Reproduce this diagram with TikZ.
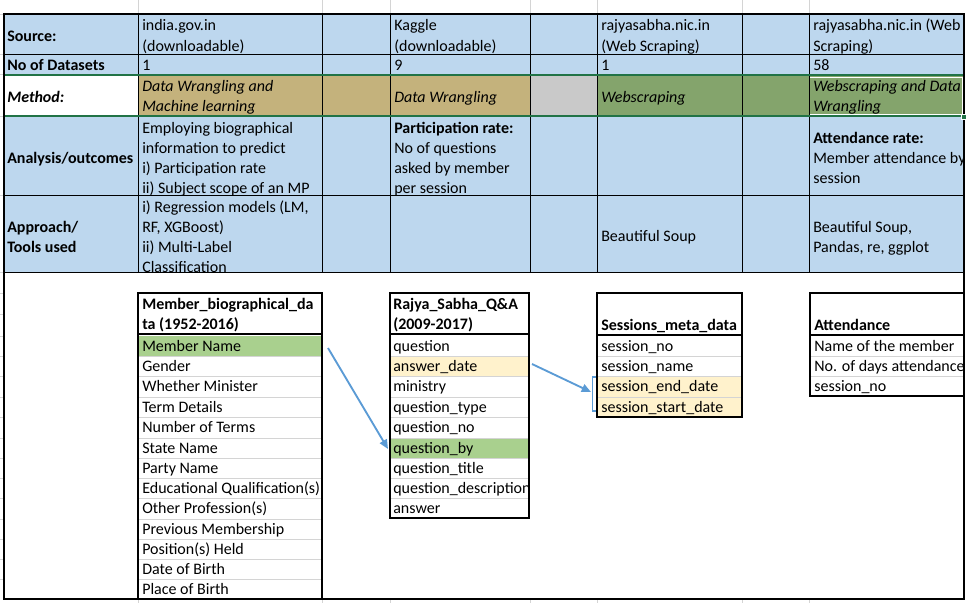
\documentclass[tikz,border=0pt]{standalone}
\usepackage{fontspec}
\setmainfont{Carlito}
\usetikzlibrary{arrows.meta}
\definecolor{cblue}{HTML}{BDD7EE}
\definecolor{ctan}{HTML}{C4B27C}
\definecolor{cgreen}{HTML}{84A46C}
\definecolor{cgray}{HTML}{C9C9C9}
\definecolor{lgreen}{HTML}{A9D08E}
\definecolor{lyellow}{HTML}{FFF2CC}
\definecolor{gridc}{HTML}{D4D4D4}
\definecolor{selgreen}{HTML}{217346}
\definecolor{arrowblue}{HTML}{5B9BD5}
\begin{document}
\begin{tikzpicture}[x=0.75pt,y=-0.75pt,
  txt/.style={anchor=west,inner sep=0pt,text height=9.5pt,text depth=2pt,font=\fontsize{12}{15}\selectfont},
  bld/.style={txt,font=\fontsize{12}{15}\selectfont\bfseries},
  itl/.style={txt,font=\fontsize{12}{15}\selectfont\itshape},
  bit/.style={txt,font=\fontsize{12}{15}\selectfont\bfseries\itshape},
  thinl/.style={line width=0.75pt},
  thickl/.style={line width=1.6pt},
  gridl/.style={draw=gridc,line width=0.75pt},
  link/.style={draw=arrowblue,line width=1.4pt,-{Triangle[length=7pt,width=6pt]}}]
\useasboundingbox (0,0) rectangle (966,603);
% fills
\fill[cblue] (4,14) rectangle (964,272);
\fill[white] (4,74) rectangle (138,116);
\fill[ctan] (138,74) rectangle (530,116);
\fill[cgray] (530,74) rectangle (597,116);
\fill[cgreen] (597,74) rectangle (964,116);
\fill[lgreen] (138,336) rectangle (322,356);
\fill[lyellow] (390,356) rectangle (529,376);
\fill[lgreen] (390,438) rectangle (529,458);
\fill[lyellow] (597,376) rectangle (742,417);
% outside gridlines
\foreach \xx in {138,322,390,530,597,742,809}{
  \draw[gridl] (\xx,0) -- (\xx,14);
  \draw[gridl] (\xx,599) -- (\xx,603);}
\foreach \yy in {14,54,74,116,195,272,293,314,336,356,376,397,417,438,458,478,498,519,539,559,579}{
  \draw[gridl] (0,\yy) -- (4,\yy);}
% inner gray row lines of bottom tables
\foreach \yy in {356,376,397,417,438,458,478,498,519,539,559,579}{
  \draw[gridl] (138,\yy) -- (322,\yy);}
\foreach \yy in {356,376,397,417,438,458,478,498}{
  \draw[gridl] (390,\yy) -- (529,\yy);}
\foreach \yy in {356,376,397}{
  \draw[gridl] (597,\yy) -- (742,\yy);}
\foreach \yy in {356,376}{
  \draw[gridl] (810,\yy) -- (964,\yy);}
% top table texts
\node[bld] (lsrc) at (7,36) {Source:};
\node[bld] (lnum) at (7,65) {No of Datasets};
\node[bit] (lmet) at (7,97) {Method:};
\node[bld] (lana) at (7,158) {Analysis/outcomes};
\node[bld] (lapp1) at (7,227) {Approach/};
\node[bld] (lapp2) at (7,247) {Tools used};
\node[txt] (a1) at (142,26) {india.gov.in};
\node[txt] (a2) at (142,46) {(downloadable)};
\node[txt] (a3) at (142,65) {1};
\node[itl] (a4) at (142,86) {Data Wrangling and};
\node[itl] (a5) at (142,106) {Machine learning};
\node[txt] (a6) at (142,128) {Employing biographical};
\node[txt] (a7) at (142,148) {information to predict};
\node[txt] (a8) at (142,168) {i) Participation rate};
\node[txt] (a9) at (142,188) {ii) Subject scope of an MP};
\node[txt] (a10) at (142,207) {i) Regression models (LM,};
\node[txt] (a11) at (142,227) {RF, XGBoost)};
\node[txt] (a12) at (142,247) {ii) Multi-Label};
\node[txt] (a13) at (142,267) {Classification};
\node[txt] (b1) at (394,26) {Kaggle};
\node[txt] (b2) at (394,46) {(downloadable)};
\node[txt] (b3) at (394,65) {9};
\node[itl] (b4) at (394,97) {Data Wrangling};
\node[bld] (b5) at (394,128) {Participation rate:};
\node[txt] (b6) at (394,148) {No of questions};
\node[txt] (b7) at (394,168) {asked by member};
\node[txt] (b8) at (394,188) {per session};
\node[txt] (c1) at (601,26) {rajyasabha.nic.in};
\node[txt] (c2) at (601,46) {(Web Scraping)};
\node[txt] (c3) at (601,65) {1};
\node[itl] (c4) at (601,97) {Webscraping};
\node[txt] (c5) at (601,236) {Beautiful Soup};
\node[txt] (d1) at (813,26) {rajyasabha.nic.in (Web};
\node[txt] (d2) at (813,46) {Scraping)};
\node[txt] (d3) at (813,65) {58};
\node[itl] (d4) at (813,86) {Webscraping and Data};
\node[itl] (d5) at (813,106) {Wrangling};
\node[bld] (d6) at (813,138) {Attendance rate:};
\node[txt] (d7) at (813,158) {Member attendance by};
\node[txt] (d8) at (813,178) {session};
\node[txt] (d9) at (813,227) {Beautiful Soup,};
\node[txt] (d10) at (813,247) {Pandas, re, ggplot};
% bottom tables texts
\node[bld] (mh1) at (142,304) {Member\_biographical\_da};
\node[bld] (mh2) at (142,324) {ta (1952-2016)};
\node[txt] (m1) at (142,346) {Member Name};
\node[txt] (m2) at (142,366) {Gender};
\node[txt] (m3) at (142,386.5) {Whether Minister};
\node[txt] (m4) at (142,407) {Term Details};
\node[txt] (m5) at (142,427.5) {Number of Terms};
\node[txt] (m6) at (142,448) {State Name};
\node[txt] (m7) at (142,468) {Party Name};
\node[txt] (m8) at (142,488) {Educational Qualification(s)};
\node[txt] (m9) at (142,508.5) {Other Profession(s)};
\node[txt] (m10) at (142,529) {Previous Membership};
\node[txt] (m11) at (142,549) {Position(s) Held};
\node[txt] (m12) at (142,569) {Date of Birth};
\node[txt] (m13) at (142,589) {Place of Birth};
\node[bld] (qh1) at (393,304) {Rajya\_Sabha\_Q\&A};
\node[bld] (qh2) at (393,324) {(2009-2017)};
\node[txt] (q1) at (393,346) {question};
\node[txt] (q2) at (393,366) {answer\_date};
\node[txt] (q3) at (393,386.5) {ministry};
\node[txt] (q4) at (393,407) {question\_type};
\node[txt] (q5) at (393,427.5) {question\_no};
\node[txt] (qby) at (393,448) {question\_by};
\node[txt] (q7) at (393,468) {question\_title};
\node[txt] (q8) at (393,488) {question\_description};
\node[txt] (q9) at (393,508.5) {answer};
\node[bld] (sh) at (601,325) {Sessions\_meta\_data};
\node[txt] (s1) at (601,346) {session\_no};
\node[txt] (s2) at (601,366) {session\_name};
\node[txt] (s3) at (601,386.5) {session\_end\_date};
\node[txt] (s4) at (601,407) {session\_start\_date};
\node[bld] (th) at (814,325) {Attendance};
\node[txt] (t1) at (814,346) {Name of the member};
\node[txt] (t2) at (814,366) {No. of days attendance};
\node[txt] (t3) at (814,386.5) {session\_no};
% masks for overflowing text
\fill[white] (529.8,478) rectangle (540,500);
\fill[white] (964.8,14) rectangle (966,603);
% top table lines
\foreach \yy in {54,74,116,195,272}{\draw[thinl] (4,\yy) -- (964,\yy);}
\foreach \xx in {138,322,390,530,597,742,809}{\draw[thinl] (\xx,14) -- (\xx,272);}
% bottom tables borders
\draw[thickl] (138,293) rectangle (322,599);
\draw[thickl] (138,334) -- (322,334);
\draw[thickl] (390,293) rectangle (529,518);
\draw[thickl] (390,334) -- (529,334);
\draw[thickl] (597,293) rectangle (742,417);
\draw[thickl] (597,335) -- (742,335);
\draw[thickl] (810,293) rectangle (964,396);
\draw[thickl] (810,335) -- (964,335);
% selection
\draw[selgreen,line width=1.6pt] (4,75) rectangle (964,116);
\draw[white,line width=0.6pt] (810,77.5) -- (962,77.5) -- (962,114) -- (810,114);
% outer frame
\draw[thickl] (4,14) rectangle (964,599);
\fill[selgreen,draw=white,line width=0.5pt] (961.5,114) rectangle (966,119);
% arrows
\coordinate (a1s) at (328,348);
\coordinate (a1e) at (388,449);
\coordinate (a2s) at (532,364);
\coordinate (brk) at (591,392);
\draw[link] (a1s) -- (a1e);
\draw[link] (a2s) -- (brk);
\draw[arrowblue,line width=1.2pt] (596,377) -- (592.5,377) -- (592.5,411) -- (596,411);
\end{tikzpicture}
\end{document}
